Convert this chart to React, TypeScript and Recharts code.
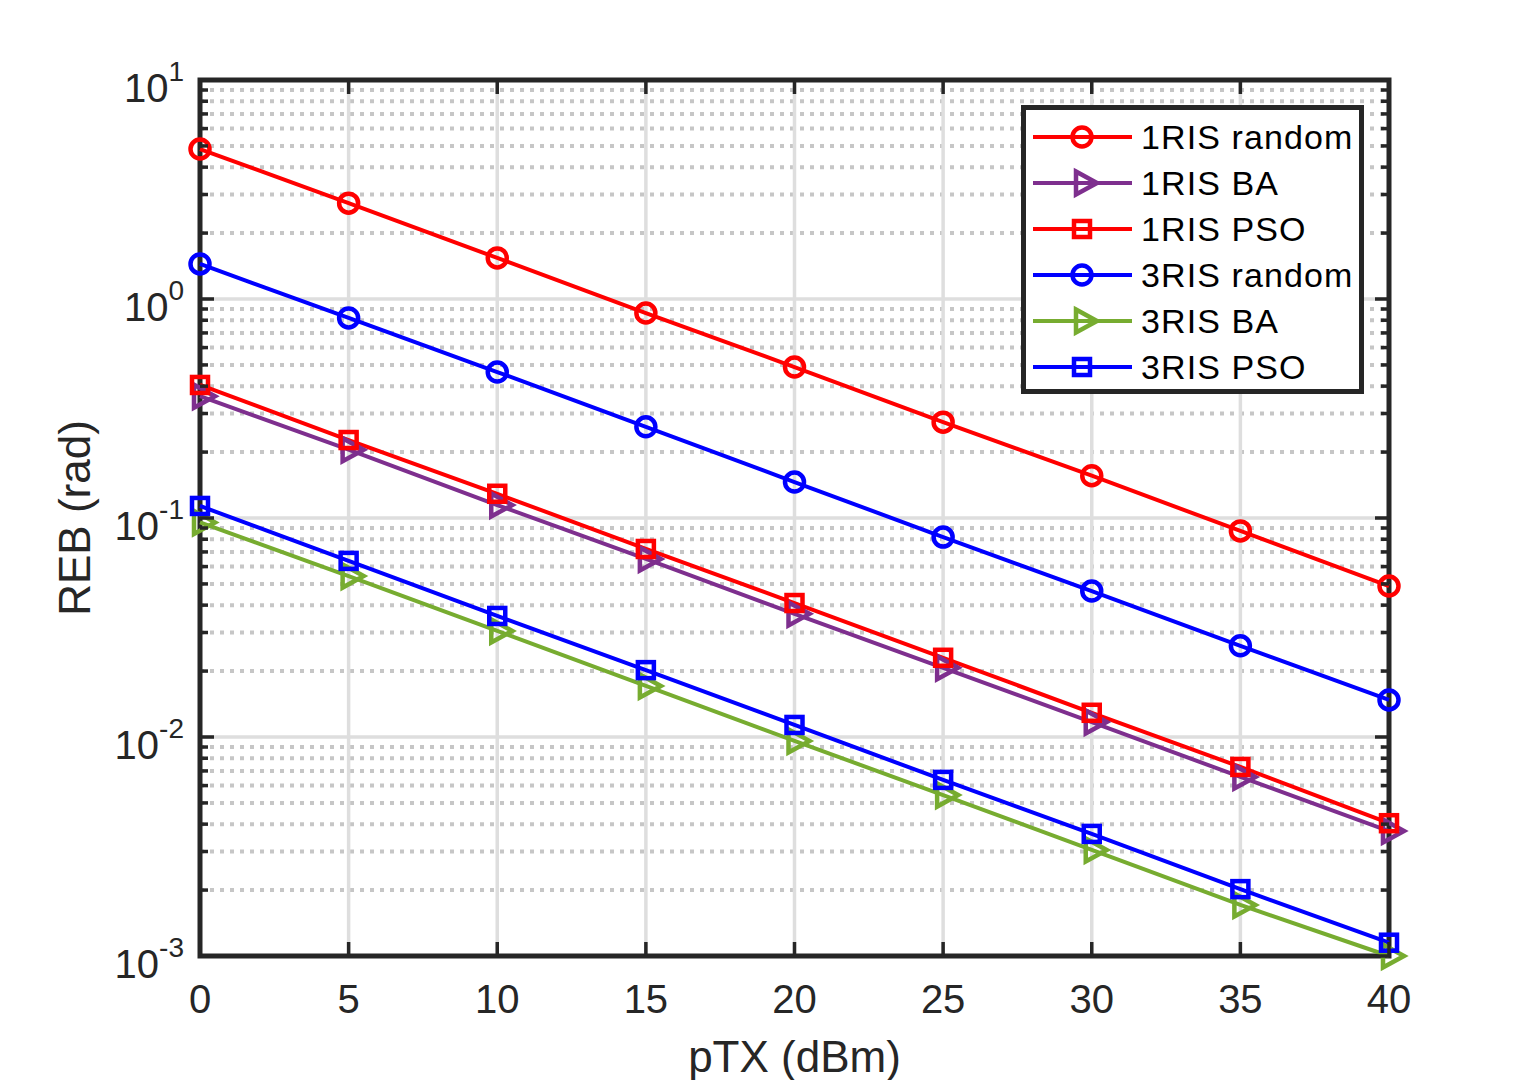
import React from "react"
import { LineChart, Line, XAxis, YAxis, CartesianGrid, Legend, ReferenceArea } from "recharts"

// transmit power (dBm)
const ptx = [0, 5, 10, 15, 20, 25, 30, 35, 40]

// REB (rad)
const ris1Random = [4.84, 2.74, 1.54, 0.863, 0.489, 0.274, 0.156, 0.0873, 0.0489]
const ris1BA = [0.36, 0.205, 0.1146, 0.065, 0.0365, 0.0207, 0.0117, 0.00657, 0.00372]
const ris1PSO = [0.405, 0.227, 0.129, 0.0722, 0.0409, 0.023, 0.0129, 0.0073, 0.00404]
const ris3Random = [1.445, 0.819, 0.464, 0.261, 0.146, 0.0818, 0.0464, 0.0261, 0.01476]
const ris3BA = [0.0955, 0.0543, 0.0305, 0.0171, 0.0096, 0.00543, 0.00305, 0.00171, 0.001]
const ris3PSO = [0.1135, 0.0637, 0.0357, 0.0202, 0.01135, 0.00637, 0.00361, 0.00202, 0.00115]

const xTicks = [0, 5, 10, 15, 20, 25, 30, 35, 40]
const yDecades = [0.001, 0.01, 0.1, 1, 10]
const yExponents = ["-3", "-2", "-1", "0", "1"]
const yMinorTicks = yDecades
  .slice(0, -1)
  .flatMap((d) => [2, 3, 4, 5, 6, 7, 8, 9].map((m) => Number((m * d).toPrecision(3))))

const series = [
  { key: "r1random", name: "1RIS random", values: ris1Random, color: "#FF0000", marker: "circle" },
  { key: "r1ba", name: "1RIS BA", values: ris1BA, color: "#7E2F8E", marker: "triangle" },
  { key: "r1pso", name: "1RIS PSO", values: ris1PSO, color: "#FF0000", marker: "square" },
  { key: "r3random", name: "3RIS random", values: ris3Random, color: "#0000FF", marker: "circle" },
  { key: "r3ba", name: "3RIS BA", values: ris3BA, color: "#77AC30", marker: "triangle" },
  { key: "r3pso", name: "3RIS PSO", values: ris3PSO, color: "#0000FF", marker: "square" },
]

const data = ptx.map((p, i) => {
  const row: Record<string, number> = { ptx: p }
  series.forEach((s) => (row[s.key] = s.values[i]))
  return row
})

const LEFT = 200
const RIGHT = 1389
const TOP = 80
const BOTTOM = 956
const INK = "#262626"
const FONT = '"Liberation Sans", Arial, Helvetica, sans-serif'

function Marker({ cx, cy, color, type }: { cx: number; cy: number; color: string; type: string }) {
  if (type === "circle") {
    return <circle cx={cx} cy={cy} r={9.5} fill="none" stroke={color} strokeWidth={4.5} />
  }
  if (type === "square") {
    return <rect x={cx - 8} y={cy - 8} width={16} height={16} fill="none" stroke={color} strokeWidth={4.5} />
  }
  return (
    <polygon
      points={`${cx - 6},${cy - 11.5} ${cx + 15},${cy} ${cx - 6},${cy + 11.5}`}
      fill="none"
      stroke={color}
      strokeWidth={4.5}
      strokeLinejoin="miter"
    />
  )
}

function XTick({ x, payload }: any) {
  return (
    <g>
      <line x1={x} x2={x} y1={BOTTOM} y2={BOTTOM - 14} stroke={INK} strokeWidth={3.5} />
      <line x1={x} x2={x} y1={TOP} y2={TOP + 14} stroke={INK} strokeWidth={3.5} />
      <text x={x} y={1013} textAnchor="middle" fontSize={40} fill={INK} fontFamily={FONT}>
        {payload.value}
      </text>
    </g>
  )
}

function YTick({ y, payload }: any) {
  const idx = yDecades.indexOf(payload.value)
  const major = idx >= 0
  const len = major ? 14 : 8
  return (
    <g>
      <line x1={LEFT} x2={LEFT + len} y1={y} y2={y} stroke={INK} strokeWidth={3.5} />
      <line x1={RIGHT} x2={RIGHT - len} y1={y} y2={y} stroke={INK} strokeWidth={3.5} />
      {major && (
        <text x={184} y={y + 22} textAnchor="end" fontSize={40} fill={INK} fontFamily={FONT}>
          10
          <tspan dy={-21} fontSize={28}>
            {yExponents[idx]}
          </tspan>
        </text>
      )}
    </g>
  )
}

function LegendBox() {
  return (
    <div
      style={{
        width: 343,
        height: 289,
        boxSizing: "border-box",
        border: `5px solid ${INK}`,
        background: "#fff",
      }}
    >
      <svg width={333} height={279} style={{ display: "block" }}>
        {series.map((s, i) => {
          const cy = 27 + i * 46
          return (
            <g key={s.key}>
              <line x1={7} x2={106} y1={cy} y2={cy} stroke={s.color} strokeWidth={4} />
              <Marker cx={56} cy={cy} color={s.color} type={s.marker} />
              <text x={115} y={cy + 12} fontSize={34} fill="#000" fontFamily={FONT} letterSpacing={1.1}>
                {s.name}
              </text>
            </g>
          )
        })}
      </svg>
    </div>
  )
}

export default function App() {
  return (
    <div style={{ position: "absolute", left: 0, top: 0, width: 1536, height: 1080, background: "#fff" }}>
      <LineChart
        width={1536}
        height={1080}
        data={data}
        margin={{ top: TOP, right: 1536 - RIGHT, bottom: 1080 - BOTTOM - 30, left: LEFT - 30 }}
      >
        <CartesianGrid
          horizontalValues={yMinorTicks}
          vertical={false}
          stroke="#c6c6c6"
          strokeWidth={4}
          strokeDasharray="4 6"
        />
        <CartesianGrid horizontalValues={yDecades} verticalValues={xTicks} stroke="#dedede" strokeWidth={3.5} />
        <XAxis
          dataKey="ptx"
          type="number"
          domain={[0, 40]}
          ticks={xTicks}
          interval={0}
          height={30}
          axisLine={false}
          tickLine={false}
          tick={XTick}
          label={{
            content: () => (
              <text x={(LEFT + RIGHT) / 2} y={1072} textAnchor="middle" fontSize={44} fill={INK} fontFamily={FONT}>
                pTX (dBm)
              </text>
            ),
          }}
        />
        <YAxis
          type="number"
          scale="log"
          domain={[0.001, 10]}
          ticks={[...yDecades, ...yMinorTicks].sort((a, b) => a - b)}
          interval={0}
          width={30}
          axisLine={false}
          tickLine={false}
          tick={YTick}
          label={{
            content: () => (
              <text
                x={90}
                y={(TOP + BOTTOM) / 2}
                transform={`rotate(-90, 90, ${(TOP + BOTTOM) / 2})`}
                textAnchor="middle"
                fontSize={44}
                fill={INK}
                fontFamily={FONT}
              >
                REB (rad)
              </text>
            ),
          }}
        />
        <ReferenceArea x1={0} x2={40} y1={0.001} y2={10} fill="none" stroke={INK} strokeWidth={5} />
        {series.map((s) => (
          <Line
            key={s.key}
            dataKey={s.key}
            name={s.name}
            stroke={s.color}
            strokeWidth={4}
            activeDot={false}
            isAnimationActive={false}
            dot={(p: any) => <Marker key={`${s.key}-${p.index}`} cx={p.cx} cy={p.cy} color={s.color} type={s.marker} />}
          />
        ))}
        <Legend
          layout="horizontal"
          verticalAlign="middle"
          align="center"
          wrapperStyle={{ left: 1021, top: 105, width: 343, height: 289 }}
          content={() => <LegendBox />}
        />
      </LineChart>
    </div>
  )
}
